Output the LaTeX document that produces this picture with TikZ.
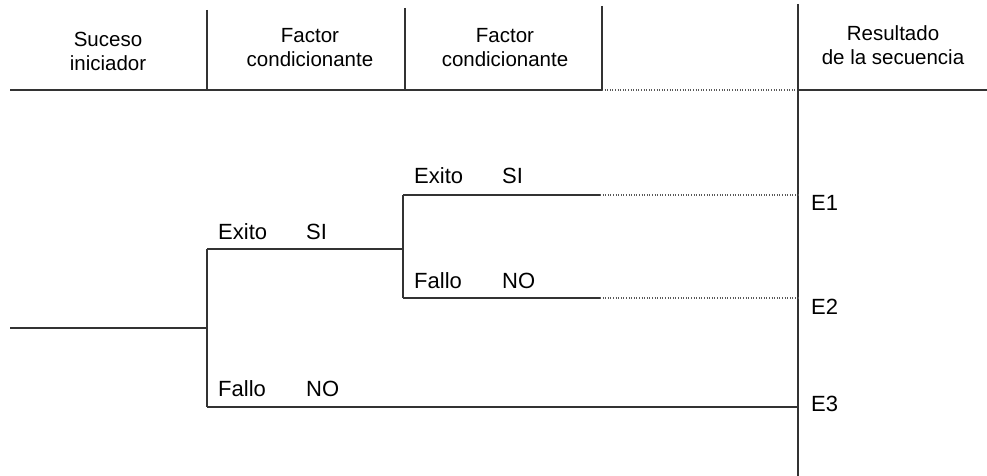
\documentclass[tikz,border=0pt]{standalone}
\usepackage{fontspec}
\setmainfont{Liberation Sans}
\begin{document}
\begin{tikzpicture}[x=1pt,y=-1pt,
  ln/.style={draw=black!80,line width=1.5pt},
  dotln/.style={draw=black!65,line width=1.2pt,dash pattern=on 1pt off 1.6pt},
  head/.style={align=center,font=\fontsize{20.5}{24}\selectfont,inner sep=0pt},
  lbl/.style={anchor=base west,font=\fontsize{22}{26}\selectfont,inner sep=0pt}]
\useasboundingbox (0,0) rectangle (987,476);
% header row
\coordinate (hl) at (10,90);
\coordinate (hm) at (602,90);
\coordinate (hr) at (798,90);
\coordinate (he) at (987,90);
\draw[ln] (hl) -- (hm);
\draw[dotln] (hm) -- (hr);
\draw[ln] (hr) -- (he);
\coordinate (s1t) at (207,10);  \coordinate (s1b) at (207,90);
\coordinate (s2t) at (405,8);   \coordinate (s2b) at (405,90);
\coordinate (s3t) at (602,6);   \coordinate (s3b) at (602,90);
\coordinate (rt) at (798,4);    \coordinate (rb) at (798,476);
\draw[ln] (s1t) -- (s1b);
\draw[ln] (s2t) -- (s2b);
\draw[ln] (s3t) -- (s3b);
\draw[ln] (rt) -- (rb);
\node[head] (h1) at (108,51) {Suceso\\iniciador};
\node[head] (h2) at (310,48) {Factor\\condicionante};
\node[head] (h3) at (505,48) {Factor\\condicionante};
\node[head] (h4) at (893,45) {Resultado\\de la secuencia};
% event tree
\coordinate (start) at (10,328);
\coordinate (j1) at (207,328);
\coordinate (j1t) at (207,249);
\coordinate (j1b) at (207,407);
\coordinate (j2) at (403,249);
\coordinate (j2t) at (403,195);
\coordinate (j2b) at (403,298);
\coordinate (e1s) at (600,195);
\coordinate (e2s) at (600,298);
\coordinate (e1) at (798,195);
\coordinate (e2) at (798,298);
\coordinate (e3) at (798,407);
\draw[ln] (start) -- (j1);
\draw[ln] (j1t) -- (j1b);
\draw[ln] (j1t) -- (j2);
\draw[ln] (j2t) -- (j2b);
\draw[ln] (j2t) -- (e1s);
\draw[dotln] (e1s) -- (e1);
\draw[ln] (j2b) -- (e2s);
\draw[dotln] (e2s) -- (e2);
\draw[ln] (j1b) -- (e3);
% branch labels
\node[lbl] (x1) at (218,239) {Exito};
\node[lbl] (y1) at (306,239) {SI};
\node[lbl] (f1) at (218,396) {Fallo};
\node[lbl] (n1) at (306,396) {NO};
\node[lbl] (x2) at (414,183) {Exito};
\node[lbl] (y2) at (502,183) {SI};
\node[lbl] (f2) at (414,288) {Fallo};
\node[lbl] (n2) at (502,288) {NO};
\node[lbl] (r1) at (811,210) {E1};
\node[lbl] (r2) at (811,314) {E2};
\node[lbl] (r3) at (811,411) {E3};
\end{tikzpicture}
\end{document}
